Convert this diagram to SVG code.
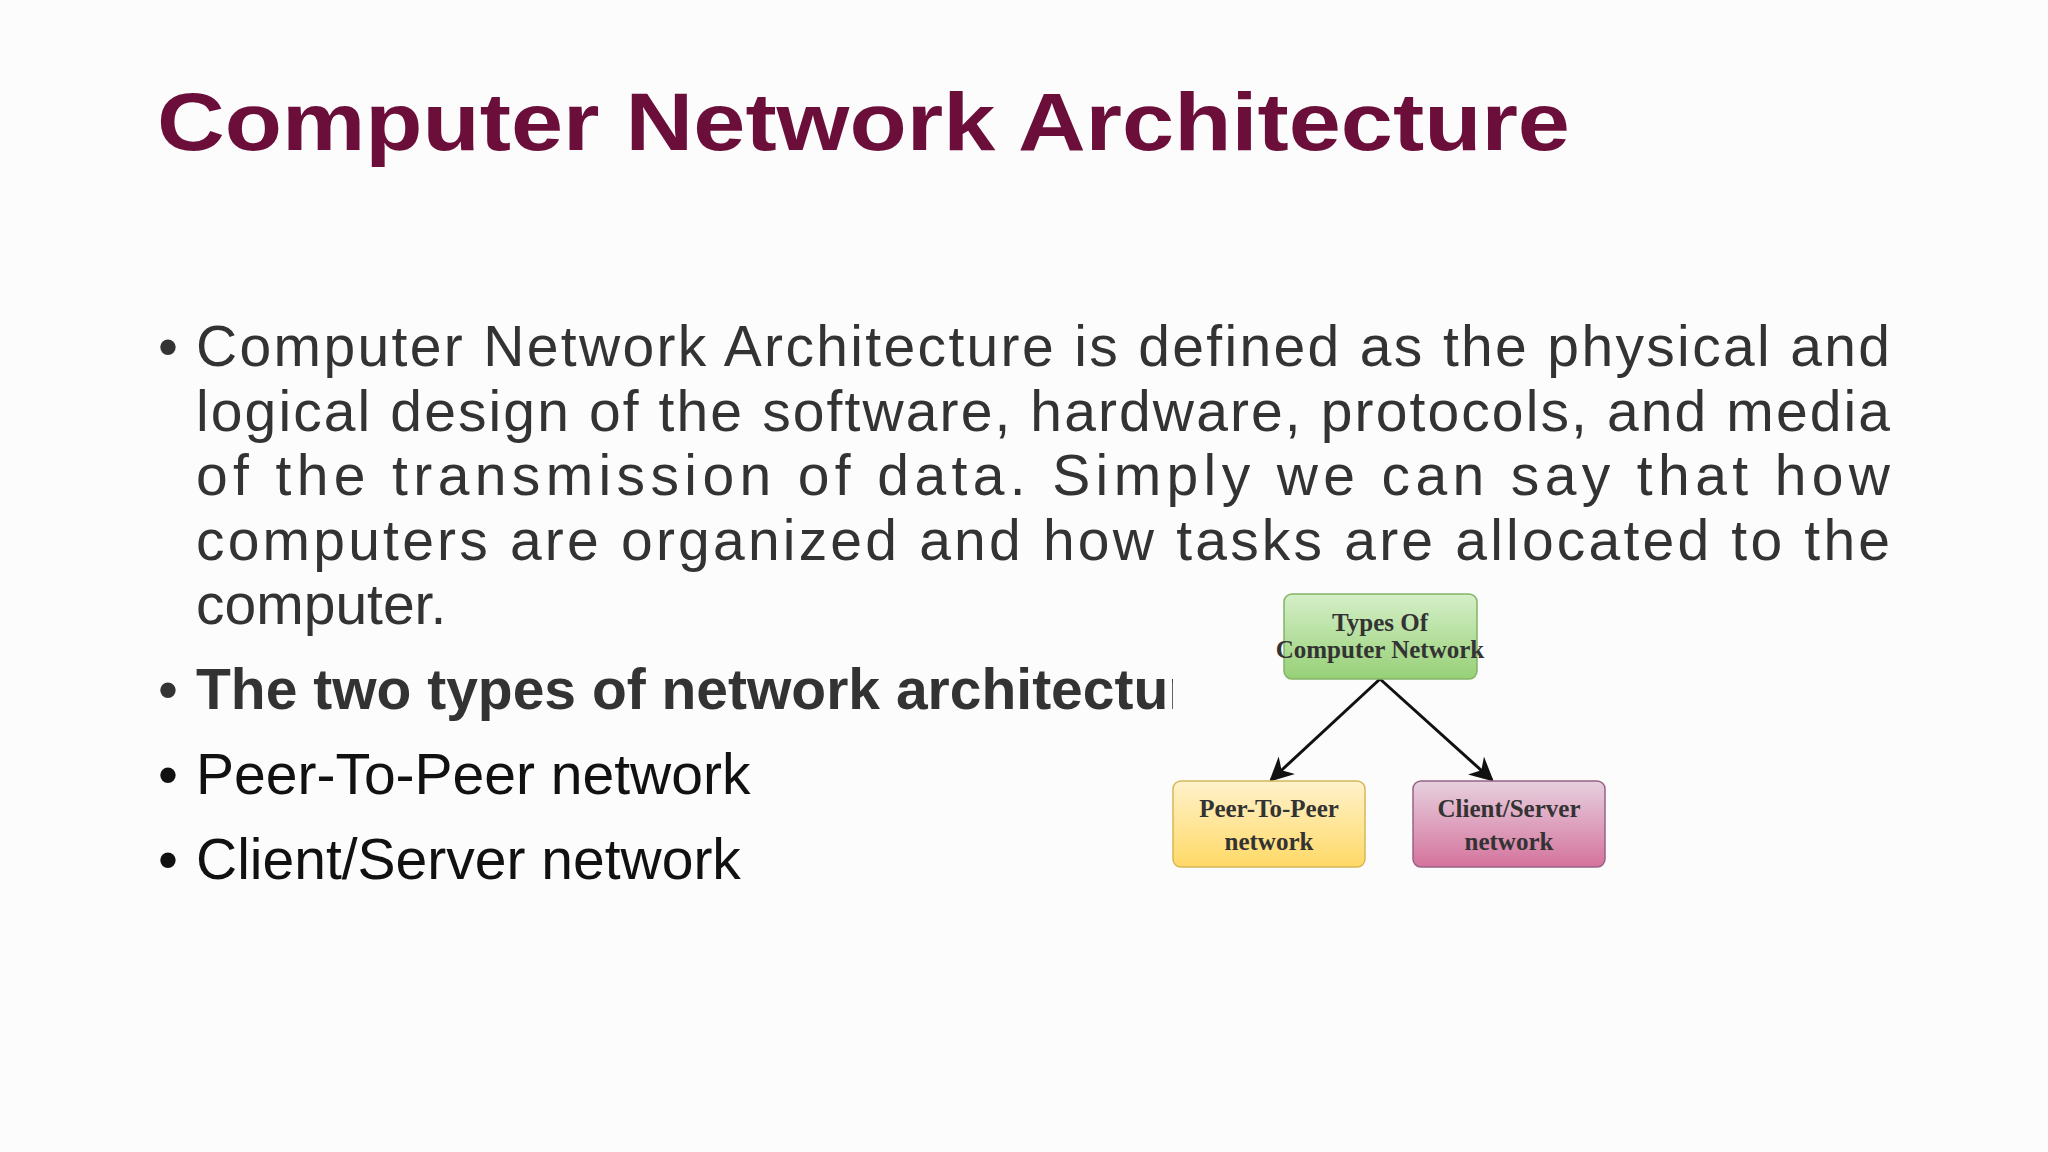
<svg xmlns="http://www.w3.org/2000/svg" width="2048" height="1152" viewBox="0 0 2048 1152">
<defs>
<style>
.b{font-family:"Liberation Sans",Arial,sans-serif;font-size:57px;fill:#333}
.n{font-family:"Liberation Serif","Times New Roman",serif;font-weight:bold;font-size:25px;fill:#333;text-anchor:middle}
.box{stroke-width:1.5}
</style>
<linearGradient id="gg" x1="0" y1="0" x2="0" y2="1"><stop offset="0" stop-color="#d5efc8"/><stop offset="1" stop-color="#97d077"/></linearGradient>
<linearGradient id="gy" x1="0" y1="0" x2="0" y2="1"><stop offset="0" stop-color="#fff2cc"/><stop offset="1" stop-color="#ffd966"/></linearGradient>
<linearGradient id="gp" x1="0" y1="0" x2="0" y2="1"><stop offset="0" stop-color="#e6d0de"/><stop offset="1" stop-color="#d5739d"/></linearGradient>
<marker id="ah" viewBox="0 0 10 10" refX="9" refY="5" markerWidth="8" markerHeight="8" orient="auto"><path d="M0,0 L10,5 L0,10 L3,5 z" fill="#111"/></marker>
<clipPath id="cp"><rect x="0" y="650" width="1173" height="90"/></clipPath>
</defs>
<rect width="2048" height="1152" fill="#fdfcfc"/>
<text x="157" y="150" font-family="Liberation Sans,Arial,sans-serif" font-weight="bold" font-size="82" fill="#6b0f3a" textLength="1413" lengthAdjust="spacingAndGlyphs">Computer Network Architecture</text>
<g class="b">
<text x="158" y="366">•</text>
<text x="196" y="366" textLength="1694" lengthAdjust="spacing">Computer Network Architecture is defined as the physical and</text>
<text x="196" y="431" textLength="1694" lengthAdjust="spacing">logical design of the software, hardware, protocols, and media</text>
<text x="196" y="495" textLength="1694" lengthAdjust="spacing">of the transmission of data. Simply we can say that how</text>
<text x="196" y="560" textLength="1694" lengthAdjust="spacing">computers are organized and how tasks are allocated to the</text>
<text x="196" y="624">computer.</text>
<text x="158" y="709">•</text>
<text x="196" y="709" font-weight="bold" clip-path="url(#cp)">The two types of network architecture are:</text>
<text x="158" y="794" fill="#111">•</text>
<text x="196" y="794" fill="#111">Peer-To-Peer network</text>
<text x="158" y="879" fill="#111">•</text>
<text x="196" y="879" fill="#111">Client/Server network</text>
</g>
<g id="connectors" stroke="#111" stroke-width="3" fill="none">
<line x1="1380" y1="679" x2="1271" y2="780" marker-end="url(#ah)"/>
<line x1="1380" y1="679" x2="1492" y2="780" marker-end="url(#ah)"/>
</g>
<g id="n-types"><rect class="box" x="1284" y="594" width="193" height="85" rx="8" fill="url(#gg)" stroke="#82b366"/><text class="n" x="1380" y="631">Types Of</text><text class="n" x="1380" y="658">Computer Network</text></g>
<g id="n-p2p"><rect class="box" x="1173" y="781" width="192" height="86" rx="8" fill="url(#gy)" stroke="#d6b656"/><text class="n" x="1269" y="817">Peer-To-Peer</text><text class="n" x="1269" y="850">network</text></g>
<g id="n-cs"><rect class="box" x="1413" y="781" width="192" height="86" rx="8" fill="url(#gp)" stroke="#996185"/><text class="n" x="1509" y="817">Client/Server</text><text class="n" x="1509" y="850">network</text></g>
</svg>
